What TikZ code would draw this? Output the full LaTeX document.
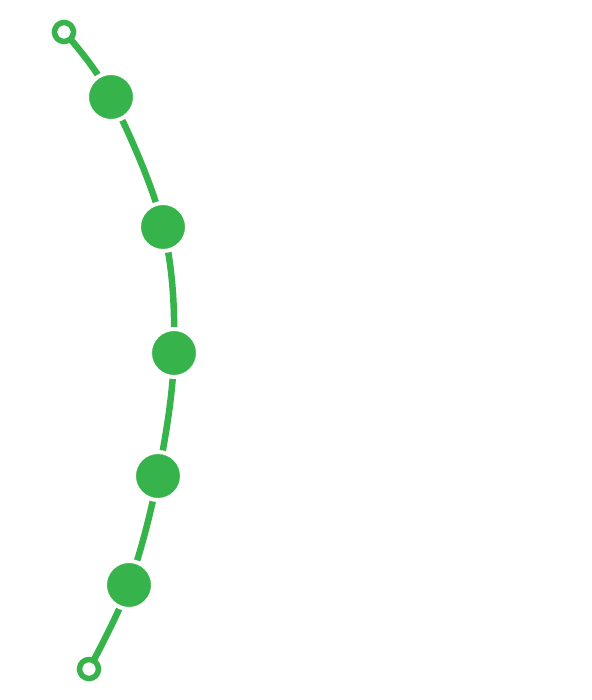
\documentclass[tikz,border=0pt]{standalone}
\definecolor{trackgreen}{HTML}{36B34A}
\begin{document}
\begin{tikzpicture}[x=1pt,y=-1pt,
  stop/.style={circle,draw=white,line width=4pt,fill=trackgreen,inner sep=0pt,minimum size=48pt},
  endstop/.style={circle,draw=trackgreen,line width=5.5pt,fill=white,inner sep=0pt,minimum size=19pt}]
\useasboundingbox (0,0) rectangle (591,700);
\coordinate (s) at (64,32);
\coordinate (a) at (111,97);
\coordinate (b) at (163,227);
\coordinate (c) at (174,353);
\coordinate (d) at (158,476);
\coordinate (e) at (129,585);
\coordinate (t) at (89,669);
\draw[trackgreen,line width=6.5pt] plot[smooth,tension=0.6] coordinates {(s) (a) (b) (c) (d) (e) (t)};
\node[endstop] (s0) at (s) {};
\node[stop] (a0) at (a) {};
\node[stop] (b0) at (b) {};
\node[stop] (c0) at (c) {};
\node[stop] (d0) at (d) {};
\node[stop] (e0) at (e) {};
\node[endstop] (t0) at (t) {};
\end{tikzpicture}
\end{document}
